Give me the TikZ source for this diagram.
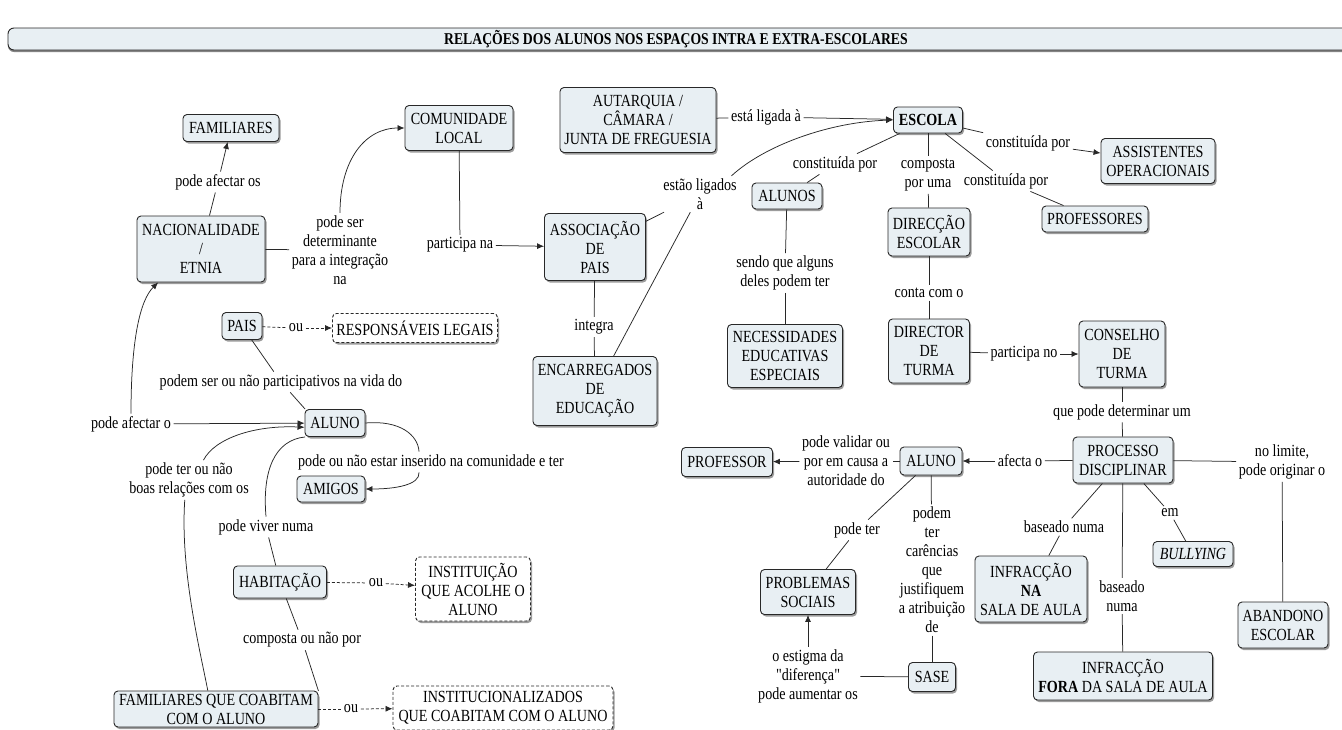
\documentclass[tikz,border=0pt]{standalone}
\usepackage{fontspec}
\setmainfont{Liberation Serif}[FakeStretch=0.83, Ligatures=TeXOff]
\usetikzlibrary{shadows,arrows.meta}
\definecolor{boxfill}{RGB}{232,239,243}
\definecolor{edge}{RGB}{40,40,40}

\begin{document}
\begin{tikzpicture}[x=1pt,y=-1pt,
  txt/.style={font=\fontsize{17}{19}\selectfont, text=black},
  concept/.style={txt, draw=edge, line width=0.9pt, rounded corners=4pt, fill=boxfill,
    align=center, inner sep=2pt,
    drop shadow={shadow xshift=1.5pt, shadow yshift=-2pt, fill=black!55, opacity=0.7}},
  alt/.style={concept, fill=white, dash pattern=on 3pt off 2pt},
  lab/.style={txt, align=center, inner sep=2.5pt},
  link/.style={draw=edge, line width=0.75pt},
  arr/.style={link, -{Latex[length=7pt,width=6pt]}},
  dlink/.style={link, dash pattern=on 3pt off 2pt},
  darr/.style={arr, dash pattern=on 3pt off 2pt},
]
\useasboundingbox (0,0) rectangle (1342,729);
\fill[white] (0,0) rectangle (1342,729);

% title bar
\draw[draw=edge, line width=0.9pt, fill=boxfill, rounded corners=6pt,
  drop shadow={shadow xshift=0pt, shadow yshift=-2pt, fill=black!60, opacity=0.8}]
  (8,28) rectangle (1380,50);
\node[font=\bfseries\fontsize{16.5}{18}\selectfont] (title) at (676,39)
  {RELAÇÕES DOS ALUNOS NOS ESPAÇOS INTRA E EXTRA-ESCOLARES};

% concepts
\node[concept, minimum width=96pt, minimum height=27pt] (fam) at (231,128) {FAMILIARES};
\node[concept, minimum width=108pt, minimum height=45pt] (com) at (459,128) {COMUNIDADE\\LOCAL};
\node[concept, minimum width=128pt, minimum height=66pt] (nac) at (201,249) {NACIONALIDADE\\/\\ETNIA};
\node[concept, minimum width=156pt, minimum height=65pt] (aut) at (638,120) {AUTARQUIA /\\CÂMARA /\\JUNTA DE FREGUESIA};
\node[concept, minimum width=69pt, minimum height=26pt] (esc) at (928,120) {\textbf{ESCOLA}};
\node[concept, minimum width=114pt, minimum height=45pt] (ass) at (1158,161) {ASSISTENTES\\OPERACIONAIS};
\node[concept, minimum width=70pt, minimum height=26pt] (alunos) at (787,196) {ALUNOS};
\node[concept, minimum width=82pt, minimum height=48pt] (dir) at (929,232) {DIRECÇÃO\\ESCOLAR};
\node[concept, minimum width=106pt, minimum height=26pt] (prof) at (1095,219) {PROFESSORES};
\node[concept, minimum width=101pt, minimum height=67pt] (apais) at (595,247) {ASSOCIAÇÃO\\DE\\PAIS};
\node[concept, minimum width=40pt, minimum height=27pt] (pais) at (242,326) {PAIS};
\node[alt, minimum width=165pt, minimum height=29pt] (resp) at (415,328) {RESPONSÁVEIS LEGAIS};
\node[concept, minimum width=124pt, minimum height=69pt] (enc) at (595,391) {ENCARREGADOS\\DE\\EDUCAÇÃO};
\node[concept, minimum width=115pt, minimum height=63pt] (nee) at (785,356) {NECESSIDADES\\EDUCATIVAS\\ESPECIAIS};
\node[concept, minimum width=81pt, minimum height=64pt] (dt) at (929,351) {DIRECTOR\\DE\\TURMA};
\node[concept, minimum width=86pt, minimum height=66pt] (cons) at (1122,354) {CONSELHO\\DE\\TURMA};
\node[concept, minimum width=60pt, minimum height=27pt] (alunoL) at (335,423) {ALUNO};
\node[concept, minimum width=68pt, minimum height=26pt] (amigos) at (331,489) {AMIGOS};
\node[concept, minimum width=100pt, minimum height=46pt] (proc) at (1123,460) {PROCESSO\\DISCIPLINAR};
\node[concept, minimum width=62pt, minimum height=28pt] (alunoR) at (931,461) {ALUNO};
\node[concept, minimum width=91pt, minimum height=29pt] (profr) at (727,462) {PROFESSOR};
\node[concept, minimum width=80pt, minimum height=25pt] (bull) at (1193,554) {\textit{BULLYING}};
\node[concept, minimum width=93pt, minimum height=32pt] (hab) at (280,582) {HABITAÇÃO};
\node[alt, minimum width=115pt, minimum height=64pt] (inst) at (473,589) {INSTITUIÇÃO\\QUE ACOLHE O\\ALUNO};
\node[concept, minimum width=112pt, minimum height=66pt] (infna) at (1031,589) {INFRACÇÃO\\\textbf{NA}\\SALA DE AULA};
\node[concept, minimum width=90pt, minimum height=46pt] (aband) at (1283,625) {ABANDONO\\ESCOLAR};
\node[concept, minimum width=95pt, minimum height=45pt] (probs) at (808,592) {PROBLEMAS\\SOCIAIS};
\node[concept, minimum width=47pt, minimum height=29pt] (sase) at (932,677) {SASE};
\node[concept, minimum width=179pt, minimum height=48pt] (inffora) at (1123,676) {INFRACÇÃO\\\textbf{FORA} DA SALA DE AULA};
\node[concept, minimum width=204pt, minimum height=36pt] (famco) at (216,709) {FAMILIARES QUE COABITAM\\COM O ALUNO};
\node[alt, minimum width=220pt, minimum height=44pt] (instz) at (503,708) {INSTITUCIONALIZADOS\\QUE COABITAM COM O ALUNO};

% linking phrases
\node[lab] (l1) at (218,182) {pode afectar os};
\node[lab] (l2) at (340,250) {pode ser\\determinante\\para a integração\\na};
\node[lab] (l3) at (460,245) {participa na};
\node[lab] (l4) at (766,117) {está ligada à};
\node[lab] (l5) at (700,194) {estão ligados\\à};
\node[lab] (l6) at (835,164) {constituída por};
\node[lab] (l7) at (928,175) {composta\\por uma};
\node[lab] (l8) at (1028,143) {constituída por};
\node[lab] (l9) at (1006,181) {constituída por};
\node[lab] (l10) at (785,273) {sendo que alguns\\deles podem ter};
\node[lab] (l11) at (594,327) {integra};
\node[lab] (l12) at (929,293) {conta com o};
\node[lab] (l13) at (1024,354) {participa no};
\node[lab] (l14) at (1122,412) {que pode determinar um};
\node[lab] (l15) at (1282,462) {no limite,\\pode originar o};
\node[lab] (l16) at (1020,461) {afecta o};
\node[lab] (l17) at (846,461) {pode validar ou\\por em causa a\\autoridade do};
\node[lab] (l18) at (857,530) {pode ter};
\node[lab] (l19) at (932,570) {podem\\ter\\carências\\que\\justifiquem\\a atribuição\\de};
\node[lab] (l20) at (1064,527) {baseado numa};
\node[lab] (l21) at (1170,513) {em};
\node[lab] (l22) at (1122,596) {baseado\\numa};
\node[lab] (l23) at (808,676) {o estigma da\\"diferença"\\pode aumentar os};
\node[lab] (l24) at (296,328) {ou};
\node[lab] (l25) at (131,424) {pode afectar o};
\node[lab] (l26) at (281,382) {podem ser ou não participativos na vida do};
\node[lab] (l27) at (431,462) {pode ou não estar inserido na comunidade e ter};
\node[lab] (l28) at (189,480) {pode ter ou não\\boas relações com os};
\node[lab] (l29) at (266,527) {pode viver numa};
\node[lab] (l30) at (376,583) {ou};
\node[lab] (l31) at (302,640) {composta ou não por};
\node[lab] (l32) at (351,709) {ou};

% connectors: upper left
\draw[link] (nac) -- (l1);
\draw[arr] (l1) -- (fam);
\draw[link] (nac) -- (l2);
\draw[arr] (l2.north) .. controls (340,160) and (365,128) .. (com.west);
\draw[link] (com) -- (l3);
\draw[arr] (l3) -- (apais);
\draw[link] (apais) -- (l11);
\draw[link] (l11) -- (enc);

% connectors: school
\draw[link] (aut) -- (l4);
\draw[arr] (l4) -- (esc);
\draw[link] (enc) -- (l5);
\draw[link] (apais) -- (l5);
\draw[arr] (l5.30) .. controls (765,145) and (830,122) .. (esc.west);
\draw[link] (esc) -- (l6);
\draw[link] (l6) -- (alunos);
\draw[link] (esc) -- (l7);
\draw[link] (l7) -- (dir);
\draw[link] (esc) -- (l9);
\draw[link] (l9) -- (prof);
\draw[link] (esc) -- (l8);
\draw[arr] (l8) -- (ass);
\draw[link] (alunos) -- (l10);
\draw[link] (l10) -- (nee);
\draw[link] (dir) -- (l12);
\draw[link] (l12) -- (dt);
\draw[link] (dt) -- (l13);
\draw[arr] (l13) -- (cons);
\draw[link] (cons) -- (l14);
\draw[link] (l14) -- (proc);

% connectors: discipline
\draw[link] (proc) -- (l16);
\draw[arr] (l16) -- (alunoR);
\draw[link] (alunoR) -- (l17);
\draw[arr] (l17) -- (profr);
\draw[link] (alunoR) -- (l18);
\draw[link] (l18) -- (probs);
\draw[link] (alunoR) -- (l19);
\draw[link] (l19) -- (sase);
\draw[link] (sase) -- (l23);
\draw[arr] (l23) -- (probs);
\draw[link] (proc) -- (l20);
\draw[link] (l20) -- (infna);
\draw[link] (proc) -- (l22);
\draw[link] (l22) -- (inffora);
\draw[link] (proc) -- (l21);
\draw[link] (l21) -- (bull);
\draw[link] (proc) -- (l15);
\draw[link] (l15) -- (aband);

% connectors: pupil and family
\draw[dlink] (pais) -- (l24);
\draw[darr] (l24) -- (resp);
\draw[link] (pais) -- (l26);
\draw[link] (l26) -- (alunoL.155);
\draw[arr] (l25) -- (alunoL);
\draw[arr] (l25.north) .. controls (131,340) and (140,300) .. (nac.218);
\draw[link] (alunoL.east) .. controls (400,420) and (418,435) .. (l27.139);
\draw[arr] (l27.221) .. controls (420,485) and (395,489) .. (amigos.east);
\draw[arr] (l28.54) .. controls (215,438) and (255,425) .. (alunoL.188);
\draw[link] (l28.258) .. controls (180,570) and (200,650) .. (famco.114);
\draw[link] (alunoL.205) .. controls (275,440) and (262,470) .. (l29.north);
\draw[link] (l29) -- (hab);
\draw[dlink] (hab) -- (l30);
\draw[darr] (l30) -- (inst);
\draw[link] (hab) -- (l31);
\draw[link] (l31) -- (famco.10);
\draw[dlink] (famco) -- (l32);
\draw[darr] (l32) -- (instz);
\end{tikzpicture}
\end{document}
